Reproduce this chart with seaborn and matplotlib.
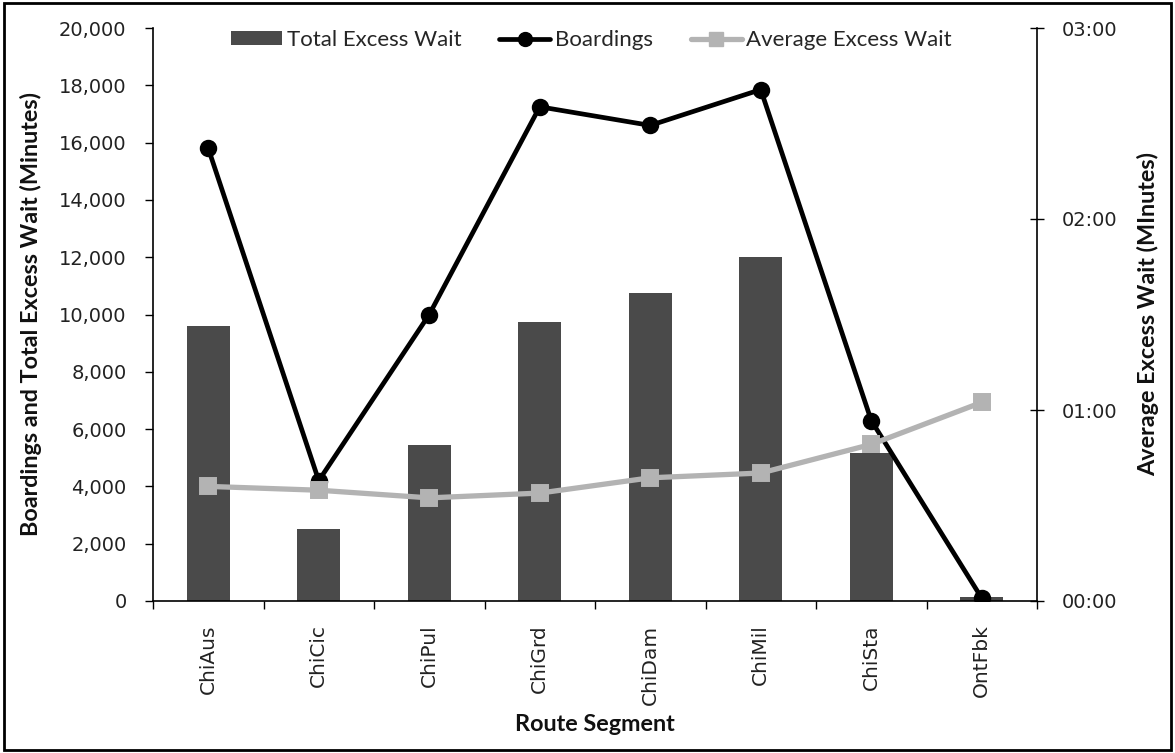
import numpy as np
import pandas as pd
import matplotlib
matplotlib.use("Agg")
import matplotlib.pyplot as plt
import seaborn as sns
from matplotlib.ticker import FuncFormatter, FixedLocator
from matplotlib.lines import Line2D
from matplotlib.patches import Patch, Rectangle

# ---- data ----
segments = ["ChiAus", "ChiCic", "ChiPul", "ChiGrd", "ChiDam", "ChiMil", "ChiSta", "OntFbk"]
total_excess_wait = [9600, 2500, 5450, 9750, 10750, 12000, 5150, 150]
boardings = [15800, 4200, 10000, 17250, 16600, 17850, 6300, 100]
avg_excess_wait_min = [0.60, 0.58, 0.54, 0.565, 0.645, 0.67, 0.82, 1.04]
left_ticks = [0, 2000, 4000, 6000, 8000, 10000, 12000, 14000, 16000, 18000, 20000]
right_ticks = [0, 1, 2, 3]

BAR_C = "#4a4a4a"
AVG_C = "#b3b3b3"

sns.set_theme(style="ticks")
plt.rcParams["font.family"] = ["DejaVu Sans"]

W, H = 1175, 753
fig = plt.figure(figsize=(W / 100, H / 100), dpi=100)
fig.patch.set_facecolor("white")
L, R, T, B = 153, 1037, 28, 601
ax = fig.add_axes([L / W, 1 - B / H, (R - L) / W, (B - T) / H])

df = pd.DataFrame({"segment": segments, "total": total_excess_wait,
                   "boardings": boardings, "avg": avg_excess_wait_min})

sns.barplot(data=df, x="segment", y="total", color=BAR_C, width=0.39,
            saturation=1, linewidth=0, ax=ax, zorder=1)
sns.pointplot(data=df, x="segment", y="boardings", color="black", markers="o",
              markersize=10, linewidth=3.4, errorbar=None, ax=ax)

ax2 = ax.twinx()
sns.pointplot(data=df, x="segment", y="avg", color=AVG_C, markers="s",
              markersize=10, linewidth=3.8, errorbar=None, ax=ax2)

# ---- axes styling ----
ax.set_xlim(-0.5, len(segments) - 0.5)
ax.set_ylim(0, 20000)
ax.set_yticks(left_ticks)
ax.yaxis.set_major_formatter(FuncFormatter(lambda v, p: f"{int(v):,}"))
ax2.set_ylim(0, 3)
ax2.set_yticks(right_ticks)
ax2.yaxis.set_major_formatter(
    FuncFormatter(lambda v, p: f"{int(v):02d}:{int(round((v % 1) * 60)):02d}"))

ax.set_xticks(range(len(segments)))
ax.set_xticklabels(segments, rotation=90, fontsize=14.5, color="#222222")
ax.xaxis.set_minor_locator(FixedLocator(np.arange(-0.5, len(segments), 1)))
ax.tick_params(axis="x", which="major", length=0, pad=17)
ax.tick_params(axis="x", which="minor", length=6, width=1, direction="out", color="black")
ax.tick_params(axis="y", length=6, width=1, direction="out", color="black",
               labelsize=14, labelcolor="#222222", pad=13)
ax2.tick_params(axis="y", length=10, width=1, direction="inout", color="black",
                labelsize=14, labelcolor="#222222", pad=13)

for a in (ax, ax2):
    for s in a.spines.values():
        s.set_color("black")
        s.set_linewidth(1.2)
    a.spines["top"].set_visible(False)
ax.spines["right"].set_visible(False)
ax2.spines["left"].set_visible(False)
ax2.spines["bottom"].set_visible(False)

lab_font = dict(family="Lato", fontweight="bold", fontsize=16.8, color="#111111")
ax.set_xlabel("Route Segment", labelpad=7, **lab_font)
ax.set_ylabel("Boardings and Total Excess Wait (Minutes)", labelpad=12, **lab_font)
ax2.set_ylabel("Average Excess Wait (MInutes)", labelpad=14, **lab_font)

# ---- legend ----
handles = [
    Patch(facecolor=BAR_C, edgecolor="none"),
    Line2D([], [], color="black", lw=3.4, marker="o", markersize=10),
    Line2D([], [], color=AVG_C, lw=3.8, marker="s", markersize=10),
]
labels = ["Total Excess Wait", "Boardings", "Average Excess Wait"]
ax2.legend(handles, labels, loc="center", bbox_to_anchor=(0.496, 0.979), ncol=3,
           frameon=False, prop=dict(family="Lato", size=16), handlelength=2.3,
           handleheight=0.6, handletextpad=0.2, columnspacing=1.7)

# ---- outer frame ----
fig.patches.append(Rectangle((0.003, 0.004), 0.994, 0.992, transform=fig.transFigure,
                             fill=False, lw=2, ec="black"))

fig.savefig("out.png", dpi=100)
